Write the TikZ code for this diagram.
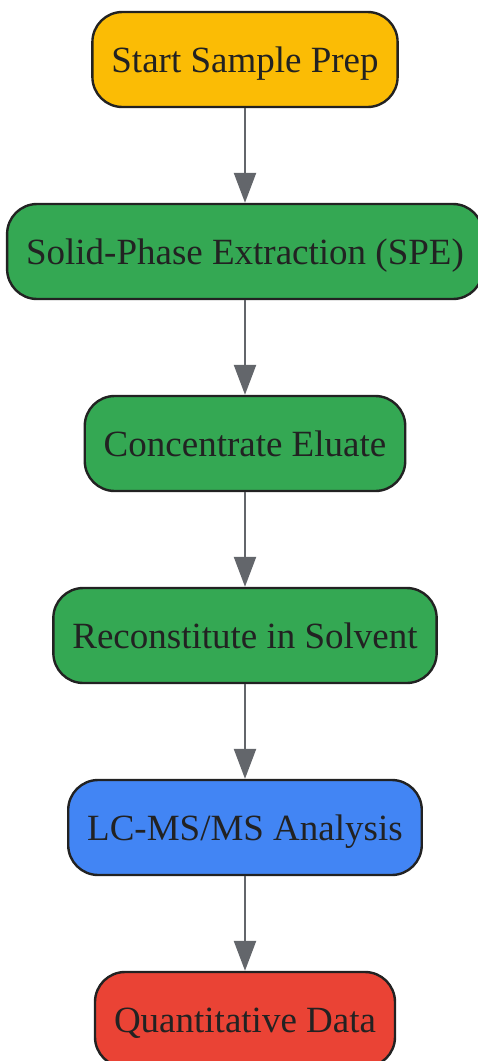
\documentclass[tikz,border=0pt]{standalone}
\usepackage{fontspec}
\setmainfont{Liberation Serif}
\usepackage{xcolor}
\usepackage{tikz}
\usetikzlibrary{positioning,arrows.meta}

\definecolor{startyellow}{HTML}{FBBC05}
\definecolor{stepgreen}{HTML}{34A853}
\definecolor{msblue}{HTML}{4285F4}
\definecolor{datared}{HTML}{EA4335}
\definecolor{edgegray}{HTML}{63666B}
\definecolor{textdark}{HTML}{222222}

\begin{document}
\begin{tikzpicture}[x=1pt,y=1pt,
        node distance=94.6pt,
        stagebox/.style={draw=textdark, line width=2.4pt, rounded corners=30pt,
            minimum height=95pt, inner xsep=19pt, inner ysep=0pt,
            text height=34pt, text depth=8pt, text=textdark,
            font=\fontsize{37}{44}\selectfont},
        flow/.style={draw=edgegray, line width=2.4pt,
            -{Triangle[width=22pt,length=30pt]}}]
        % Page frame
        \useasboundingbox (-245,59.5) rectangle (233,-1001.5);

        % Stages
        \node[stagebox, fill=startyellow] (start) at (0,0) {Start Sample Prep};
        \node[stagebox, fill=stepgreen, below=of start] (spe) {Solid-Phase Extraction (SPE)};
        \node[stagebox, fill=stepgreen, below=of spe] (conc) {Concentrate Eluate};
        \node[stagebox, fill=stepgreen, below=of conc] (recon) {Reconstitute in Solvent};
        \node[stagebox, fill=msblue, below=of recon] (lcms) {LC-MS/MS Analysis};
        \node[stagebox, fill=datared, below=of lcms] (quant) {Quantitative Data};

        % Arrows
        \foreach \from/\to in {start/spe, spe/conc, conc/recon, recon/lcms, lcms/quant}
            \draw[flow] (\from) -- (\to);

    \end{tikzpicture}
\end{document}
